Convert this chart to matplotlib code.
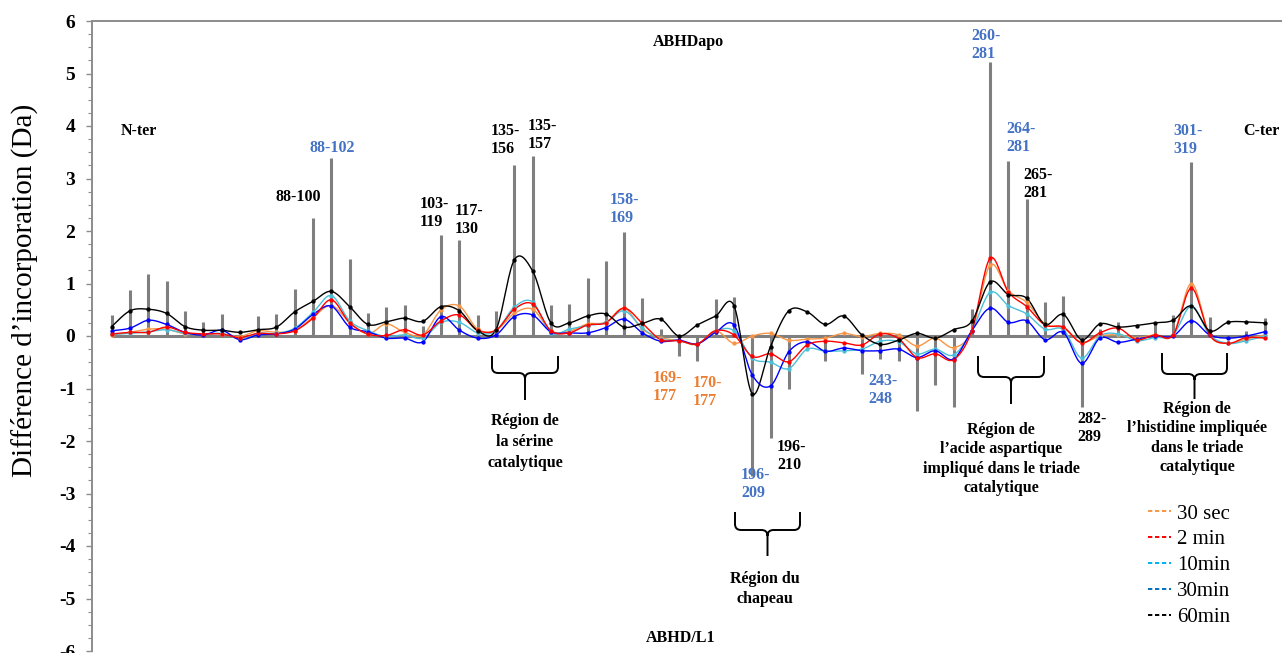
import numpy as np
import matplotlib
matplotlib.use('Agg')
import matplotlib.pyplot as plt
from matplotlib.lines import Line2D
from matplotlib.path import Path
from matplotlib.patches import PathPatch
from matplotlib.ticker import MultipleLocator, FuncFormatter

# ---------------- data (peptide index 0..63) ----------------
bars = [0.40, 0.88, 1.18, 1.05, 0.48, 0.27, 0.42, 0.0, 0.38, 0.42,
        0.90, 2.24, 3.40, 1.47, 0.44, 0.55, 0.60, 0.20, 1.92, 1.83,
        0.40, 0.47, 3.26, 3.42, 0.59, 0.61, 1.10, 1.42, 1.99, 0.73,
        0.13, -0.39, -0.47, 0.70, 0.74, -2.66, -1.95, -1.01, -0.10, -0.48,
        0.0, -0.72, -0.44, -0.48, -1.43, -0.93, -1.36, 0.51, 5.22, 3.34,
        2.61, 0.64, 0.77, -1.36, 0.13, 0.27, 0.0, 0.27, 0.40, 3.32,
        0.37, 0.0, 0.10, 0.34]

s_30sec = [0.02, 0.07, 0.13, 0.13, 0.04, 0.04, 0.04, -0.01, 0.10, 0.07,
           0.10, 0.36, 0.58, 0.26, 0.04, 0.23, 0.07, 0.02, 0.50, 0.57,
           0.13, 0.11, 0.43, 0.51, 0.10, 0.09, 0.23, 0.26, 0.53, 0.13,
           -0.03, -0.09, -0.16, 0.10, -0.14, 0.0, 0.05, -0.08, -0.06, -0.04,
           0.05, -0.01, 0.05, 0.02, -0.19, -0.04, -0.22, 0.10, 1.35, 0.86,
           0.64, 0.23, 0.15, -0.12, 0.0, 0.02, -0.03, 0.02, 0.02, 1.00,
           0.02, -0.14, -0.06, 0.02]

s_2min = [0.04, 0.07, 0.07, 0.17, 0.07, 0.04, 0.04, -0.03, 0.05, 0.04,
          0.10, 0.34, 0.69, 0.25, 0.04, 0.01, 0.12, 0.02, 0.29, 0.40,
          0.11, 0.11, 0.51, 0.61, 0.10, 0.06, 0.21, 0.25, 0.53, 0.24,
          -0.07, -0.09, -0.15, 0.10, 0.02, -0.39, -0.34, -0.49, -0.17, -0.10,
          -0.13, -0.17, 0.04, -0.05, -0.41, -0.34, -0.45, 0.10, 1.48, 0.84,
          0.56, 0.21, 0.17, -0.13, 0.06, 0.15, -0.07, 0.02, 0.02, 0.91,
          0.02, -0.14, -0.03, -0.04]

s_10min = [0.03, 0.05, 0.08, 0.12, 0.05, 0.03, 0.05, -0.05, 0.05, 0.05,
           0.15, 0.45, 0.77, 0.29, 0.10, -0.01, 0.02, -0.04, 0.26, 0.26,
           0.06, 0.10, 0.55, 0.65, 0.06, 0.13, 0.20, 0.26, 0.48, 0.15,
           -0.06, -0.09, -0.15, 0.09, 0.10, -0.42, -0.50, -0.62, -0.25, -0.29,
           -0.28, -0.25, -0.10, -0.11, -0.34, -0.25, -0.36, 0.10, 0.83, 0.58,
           0.42, 0.13, 0.12, -0.42, 0.0, 0.04, -0.09, -0.03, 0.02, 0.57,
           0.02, -0.14, -0.09, 0.0]

s_30min = [0.10, 0.15, 0.30, 0.22, 0.07, 0.02, 0.11, -0.07, 0.02, 0.04,
           0.13, 0.41, 0.57, 0.17, 0.08, -0.04, -0.04, -0.11, 0.37, 0.11,
           -0.04, 0.02, 0.37, 0.40, 0.08, 0.06, 0.06, 0.16, 0.32, 0.06,
           -0.10, -0.08, -0.15, 0.07, 0.21, -0.74, -0.95, -0.30, -0.11, -0.29,
           -0.23, -0.28, -0.28, -0.25, -0.41, -0.28, -0.44, 0.10, 0.53, 0.26,
           0.29, -0.07, 0.07, -0.52, -0.04, -0.12, -0.06, 0.0, 0.0, 0.29,
           0.02, -0.04, 0.0, 0.08]

s_60min = [0.18, 0.48, 0.51, 0.43, 0.18, 0.11, 0.11, 0.07, 0.12, 0.17,
           0.46, 0.66, 0.85, 0.56, 0.22, 0.27, 0.34, 0.28, 0.56, 0.48,
           0.10, 0.12, 1.45, 1.24, 0.25, 0.25, 0.38, 0.42, 0.17, 0.24,
           0.32, 0.0, 0.21, 0.38, 0.58, -1.10, -0.20, 0.48, 0.46, 0.22,
           0.38, 0.02, -0.16, -0.08, 0.05, -0.04, 0.12, 0.28, 1.03, 0.79,
           0.72, 0.22, 0.41, -0.07, 0.23, 0.17, 0.20, 0.25, 0.30, 0.57,
           0.10, 0.26, 0.27, 0.25]

series_labels = ['30 sec', '2 min', '10min', '30min', '60min']

# ---------------- styling ----------------
W, H = 1282, 653
SERIF = 'Liberation Serif'
c_orange = '#F79646'
c_red = '#FF0000'
c_cyan = '#4BC0D9'
c_blue = '#0000FF'
c_black = '#000000'
lab_blue = '#4472C4'
lab_orange = '#ED7D31'
gray = '#7F7F7F'

fig = plt.figure(figsize=(W / 100, H / 100), dpi=100)
ax = fig.add_axes([92 / W, 1 - 651 / H, 1 - 92 / W, (651 - 21) / H])

n = len(bars)
x = np.arange(n)
ax.set_xlim((92 - 111.7) / 18.3, (1282 - 111.7) / 18.3)
ax.set_ylim(-6, 6)

ax.vlines(x, 0, bars, color=gray, lw=2.2, zorder=1)
ax.hlines(0, 0, n - 1, color=gray, lw=2.2, zorder=1)


def smooth(xv, yv, k=16):
    P = np.column_stack([np.asarray(xv, float), np.asarray(yv, float)])
    P = np.vstack([P[0], P, P[-1]])
    t = np.linspace(0, 1, k, endpoint=False)[:, None]
    out = []
    for i in range(1, len(P) - 2):
        p0, p1, p2, p3 = P[i - 1], P[i], P[i + 1], P[i + 2]
        c1 = p1 + (p2 - p0) / 6
        c2 = p2 - (p3 - p1) / 6
        seg = ((1 - t) ** 3) * p1 + 3 * ((1 - t) ** 2) * t * c1 + 3 * (1 - t) * t ** 2 * c2 + t ** 3 * p2
        out.append(seg)
    out.append(P[-2][None, :])
    arr = np.vstack(out)
    return arr[:, 0], arr[:, 1]


for vals, col in [(s_30sec, c_orange), (s_10min, c_cyan), (s_30min, c_blue),
                  (s_2min, c_red), (s_60min, c_black)]:
    xs, ys = smooth(x, vals)
    ax.plot(xs, ys, color=col, lw=1.0, zorder=3)
    ax.plot(x, vals, 'o', ms=2.1, color=col, zorder=4)

# axes styling
for side in ['bottom', 'right']:
    ax.spines[side].set_visible(False)
for side in ['top', 'left']:
    ax.spines[side].set_color('#8C8C8C')
    ax.spines[side].set_linewidth(1.4)
ax.set_xticks([])
ax.yaxis.set_major_locator(MultipleLocator(1))
ax.yaxis.set_minor_locator(MultipleLocator(0.25))
ax.yaxis.set_major_formatter(FuncFormatter(lambda v, p: f'{int(round(v))}'))
ax.tick_params(axis='y', which='major', direction='out', length=4, width=1,
               color='#8C8C8C', pad=8, labelsize=14)
ax.tick_params(axis='y', which='minor', direction='out', length=3, width=0.8,
               color='#8C8C8C')
for lab in ax.get_yticklabels():
    lab.set_fontfamily(SERIF)
    lab.set_fontweight('bold')
ax.patch.set_alpha(0)

fig.text(24 / W, 1 - 290 / H, 'Différence d’incorporation (Da)', rotation=90,
         ha='center', va='center', family=SERIF, fontsize=21)


def ftext(s, px, py, color='k', ha='left', ma='left', size=11.5, ls=1.2):
    fig.text(px / W, 1 - py / H, s, ha=ha, va='center', ma=ma, color=color,
             family=SERIF, fontweight='bold', fontsize=size, linespacing=ls)


ftext('ABHDapo', 688, 42, ha='center')
ftext('ABHD/L1', 681, 638, ha='center')
ftext('N-ter', 121, 131)
ftext('C-ter', 1243, 131)
ftext('88-102', 309, 148, lab_blue)
ftext('88-100', 275, 197)
ftext('103-\n119', 420, 213)
ftext('117-\n130', 455, 220)
ftext('135-\n156', 491, 140)
ftext('135-\n157', 528, 135)
ftext('158-\n169', 610, 209, lab_blue)
ftext('169-\n177', 653, 387, lab_orange)
ftext('170-\n177', 693, 392, lab_orange)
ftext('196-\n210', 777, 456)
ftext('196-\n209', 741, 484, lab_blue)
ftext('243-\n248', 868, 390, lab_blue)
ftext('260-\n281', 971, 45, lab_blue)
ftext('264-\n281', 1006, 138, lab_blue)
ftext('265-\n281', 1023, 184)
ftext('282-\n289', 1077, 428)
ftext('301-\n319', 1173, 140, lab_blue)

ftext('Région de\nla sérine\ncatalytique', 525, 442, ha='center', ma='center', ls=1.38)
ftext('Région du\nchapeau', 765, 589, ha='center', ma='center', ls=1.38)
ftext('Région de\nl’acide aspartique\nimpliqué dans le triade\ncatalytique', 1001, 459,
      ha='center', ma='center', ls=1.3)
ftext('Région de\nl’histidine impliquée\ndans le triade\ncatalytique', 1197, 438,
      ha='center', ma='center', ls=1.3)


def brace(x0, x1, ytop, yh, ystem, r=6):
    xm = (x0 + x1) / 2
    pts = [(x0, ytop), (x0, yh - r), (x0, yh), (x0 + r, yh), (xm - r, yh), (xm, yh),
           (xm, yh + r), (xm, ystem), (xm, yh + r), (xm, yh), (xm + r, yh), (x1 - r, yh),
           (x1, yh), (x1, yh - r), (x1, ytop)]
    codes = [Path.MOVETO, Path.LINETO, Path.CURVE3, Path.CURVE3, Path.LINETO, Path.CURVE3,
             Path.CURVE3, Path.LINETO, Path.MOVETO, Path.CURVE3, Path.CURVE3, Path.LINETO,
             Path.CURVE3, Path.CURVE3, Path.LINETO]
    verts = [(px / W, 1 - py / H) for px, py in pts]
    fig.add_artist(PathPatch(Path(verts, codes), fill=False, lw=1.4, ec='black',
                             transform=fig.transFigure))


brace(492, 558, 356, 373, 400)
brace(735, 800, 512, 530, 556)
brace(978, 1044, 356, 377, 404)
brace(1162, 1227, 353, 374, 399)

handles = [Line2D([], [], color=c, lw=1.4, ls=(0, (2.2, 1.4)))
           for c in [c_orange, c_red, '#00B0F0', '#0070C0', c_black]]
fig.legend(handles, series_labels, loc='upper left', bbox_to_anchor=(1148 / W, 1 - 504 / H),
           frameon=False, prop={'family': SERIF, 'size': 15}, handlelength=1.1,
           handletextpad=0.3, labelspacing=0.3, borderaxespad=0, borderpad=0)

fig.savefig('out.png', dpi=100)
